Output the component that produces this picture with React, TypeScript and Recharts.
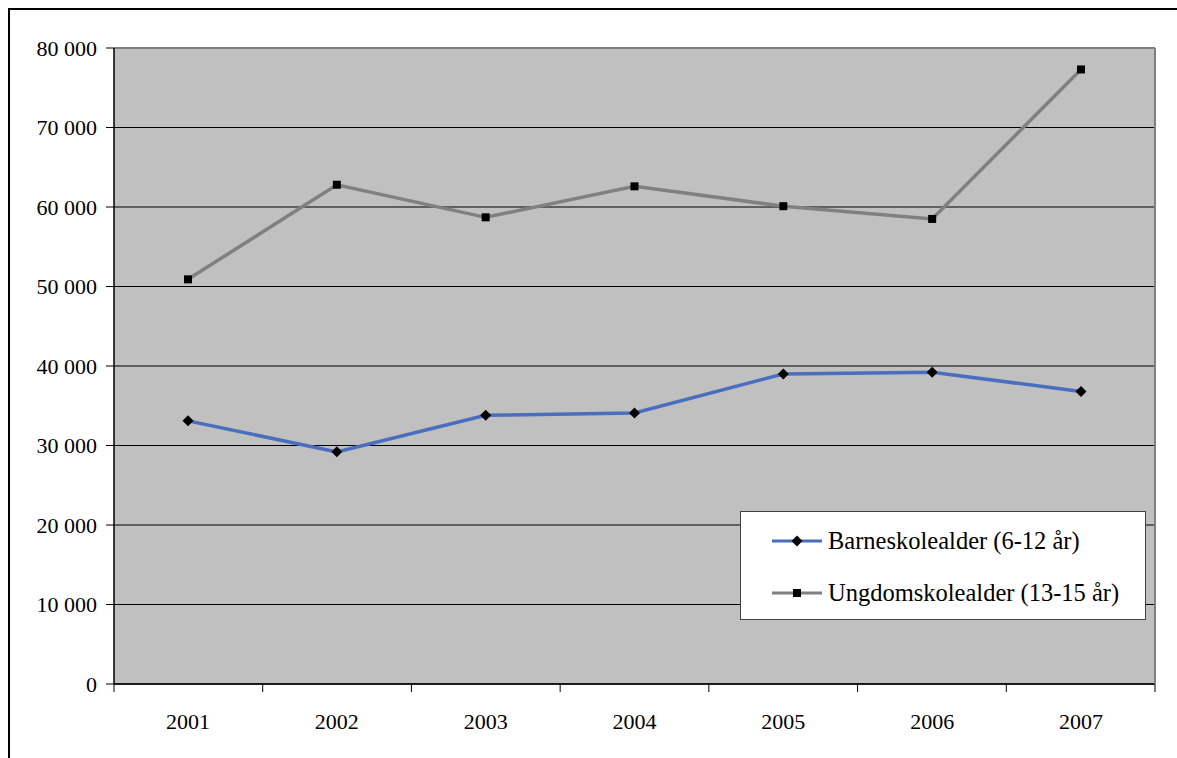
import { LineChart, Line, XAxis, YAxis, CartesianGrid, Legend } from 'recharts'

const YEARS = ['2001', '2002', '2003', '2004', '2005', '2006', '2007']
const BARNE = [33100, 29200, 33800, 34100, 39000, 39200, 36800]
const UNGDOM = [50900, 62800, 58700, 62600, 60100, 58500, 77300]
const Y_TICKS = [0, 10000, 20000, 30000, 40000, 50000, 60000, 70000, 80000]
const BAND_TICKS = [0, 1, 2, 3, 4, 5, 6, 7]

const SERIES = [
  { key: 'barne', name: 'Barneskolealder (6-12 år)', color: '#4a6ebe', marker: 'diamond' },
  { key: 'ungdom', name: 'Ungdomskolealder (13-15 år)', color: '#808080', marker: 'square' },
]

const data = YEARS.map((year, i) => ({ year, barne: BARNE[i], ungdom: UNGDOM[i] }))

const FONT = '"Liberation Serif", "Times New Roman", serif'

// 80000 -> "80 000"
const fmt = (v: number) => String(v).replace(/\B(?=(\d{3})+(?!\d))/g, ' ')

function Marker({ cx, cy, type }: { cx?: number; cy?: number; type: string }) {
  if (cx == null || cy == null) return null
  if (type === 'square') {
    return <rect x={cx - 4} y={cy - 4} width={8} height={8} fill="#000" />
  }
  return <polygon points={`${cx},${cy - 5.5} ${cx + 5.5},${cy} ${cx},${cy + 5.5} ${cx - 5.5},${cy}`} fill="#000" />
}

function LegendBox() {
  return (
    <div
      style={{
        width: 404,
        height: 107,
        background: '#fff',
        border: '1px solid #404040',
        fontFamily: FONT,
        fontSize: 24.5,
        color: '#000',
        boxSizing: 'content-box',
      }}
    >
      {SERIES.map((s, i) => (
        <div key={s.key} style={{ position: 'absolute', left: 32, top: 16 + i * 52, display: 'flex', alignItems: 'center', height: 28 }}>
          <svg width={50} height={14} style={{ marginRight: 6 }}>
            <line x1={0} y1={7} x2={50} y2={7} stroke={s.color} strokeWidth={3} />
            <Marker cx={25} cy={7} type={s.marker} />
          </svg>
          <span style={{ whiteSpace: 'nowrap' }}>{s.name}</span>
        </div>
      ))}
    </div>
  )
}

export default function App() {
  return (
    <div style={{ position: 'relative', width: 1177, height: 758, overflow: 'hidden', background: '#fff' }}>
      <style>{'html,body{margin:0;overflow:hidden}'}</style>
      <div
        style={{
          position: 'absolute',
          left: 8,
          top: 8,
          width: 1300,
          height: 900,
          borderTop: '2px solid #000',
          borderLeft: '2px solid #000',
        }}
      />
      <div style={{ position: 'absolute', left: 0, top: 0 }}>
        <LineChart
          width={1177}
          height={758}
          data={data}
          margin={{ top: 48, right: 21, bottom: 24, left: 14 }}
          style={{ fontFamily: FONT }}
        >
          <CartesianGrid
            xAxisId="cat"
            fill="#c0c0c0"
            vertical={false}
            horizontal={(p: any) => (
              <line
                key={p.key ?? `h-${p.y1}`}
                x1={p.x1}
                y1={p.y1}
                x2={p.x2}
                y2={p.y2}
                stroke={p.y1 < 50 ? '#808080' : '#000'}
                strokeWidth={p.y1 < 50 ? 2 : 1}
              />
            )}
          />
          <XAxis
            xAxisId="band"
            type="number"
            dataKey={() => 0}
            domain={[0, 7]}
            ticks={BAND_TICKS}
            tickFormatter={() => ''}
            axisLine={{ stroke: '#000', strokeWidth: 1.5 }}
            tickLine={{ stroke: '#000' }}
            tickSize={8}
            height={1}
          />
          <XAxis
            xAxisId="cat"
            dataKey="year"
            padding={{ left: 74, right: 74 }}
            axisLine={false}
            tickLine={false}
            tickSize={8}
            tickMargin={20}
            height={49}
            interval={0}
            tick={{ fill: '#000', fontSize: 22, fontFamily: FONT }}
          />
          <YAxis
            domain={[0, 80000]}
            ticks={Y_TICKS}
            tickFormatter={fmt}
            interval={0}
            width={100}
            axisLine={{ stroke: '#000', strokeWidth: 1.5 }}
            tickLine={{ stroke: '#000' }}
            tickSize={8}
            tickMargin={9}
            tick={{ fill: '#000', fontSize: 22, fontFamily: FONT }}
          />
          <YAxis
            yAxisId="frame"
            orientation="right"
            domain={[0, 1]}
            width={1}
            tick={false}
            tickLine={false}
            axisLine={{ stroke: '#808080', strokeWidth: 2 }}
          />
          <Legend
            layout="vertical"
            align="center"
            verticalAlign="middle"
            wrapperStyle={{ left: 740, top: 511, width: 406, height: 109 }}
            content={() => <LegendBox />}
          />
          {SERIES.map((s) => (
            <Line
              key={s.key}
              xAxisId="cat"
              dataKey={s.key}
              name={s.name}
              type="linear"
              stroke={s.color}
              strokeWidth={3.5}
              dot={(p: any) => <Marker key={`${s.key}-${p.index}`} cx={p.cx} cy={p.cy} type={s.marker} />}
              activeDot={false}
              isAnimationActive={false}
            />
          ))}
        </LineChart>
      </div>
    </div>
  )
}
